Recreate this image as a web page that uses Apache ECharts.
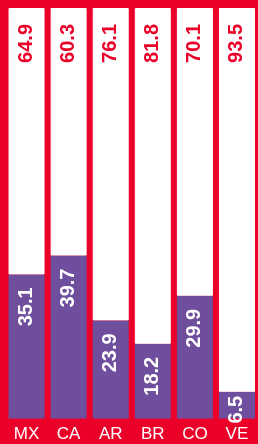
<!DOCTYPE html>
<html>
<head>
<meta charset="utf-8">
<script src="https://cdn.jsdelivr.net/npm/echarts@6/dist/echarts.min.js"></script>
<style>
  html, body { margin: 0; padding: 0; background: #ea0029; }
  #chart { width: 258px; height: 444px; }
</style>
</head>
<body>
<div id="chart"></div>
<script>
var categories = ['MX', 'CA', 'AR', 'BR', 'CO', 'VE']
var purpleValues = [35.1, 39.7, 23.9, 18.2, 29.9, 6.5]
var whiteValues = [64.9, 60.3, 76.1, 81.8, 70.1, 93.5]

var red = '#ea0029',
    purple = '#6f4f9d'

var chart = echarts.init(document.getElementById('chart'))

var labelFont = {
    fontFamily: 'Liberation Sans, Arial, sans-serif',
    fontWeight: 'bold',
    fontSize: 20
}

// short bars get their label pulled up closer to the top
var purpleData = purpleValues.map(function (v) {
    if (v < 10) {
        return { value: v, label: { distance: 4 } }
    }
    return v
})

var option = {
    backgroundColor: red,
    animation: false,
    grid: {
        left: 5.5,
        top: 8,
        width: 260,
        height: 410.5
    },
    xAxis: {
        type: 'category',
        data: categories,
        axisLine: { show: false },
        axisTick: { show: false },
        axisLabel: {
            color: '#fff',
            fontSize: 17,
            fontFamily: 'Liberation Sans, Arial, sans-serif',
            margin: 7
        }
    },
    yAxis: {
        type: 'value',
        min: 0,
        max: 100,
        show: false,
        splitLine: { show: false }
    },
    series: [
        {
            name: 'purple',
            type: 'bar',
            stack: 'total',
            barWidth: 36,
            data: purpleData,
            // thick border hides the seam under the white part
            itemStyle: { color: purple, borderColor: purple, borderWidth: 2 },
            label: Object.assign({
                show: true,
                position: 'insideTop',
                distance: 13,
                rotate: 90,
                align: 'right',
                verticalAlign: 'middle',
                color: '#fff'
            }, labelFont)
        },
        {
            name: 'white',
            type: 'bar',
            stack: 'total',
            barWidth: 37,
            data: whiteValues,
            itemStyle: { color: '#fff', borderColor: '#fff', borderWidth: 1 },
            label: Object.assign({
                show: true,
                position: 'insideTop',
                distance: 16,
                rotate: 90,
                align: 'right',
                verticalAlign: 'middle',
                color: red
            }, labelFont)
        }
    ]
}

chart.setOption(option)
</script>
</body>
</html>
